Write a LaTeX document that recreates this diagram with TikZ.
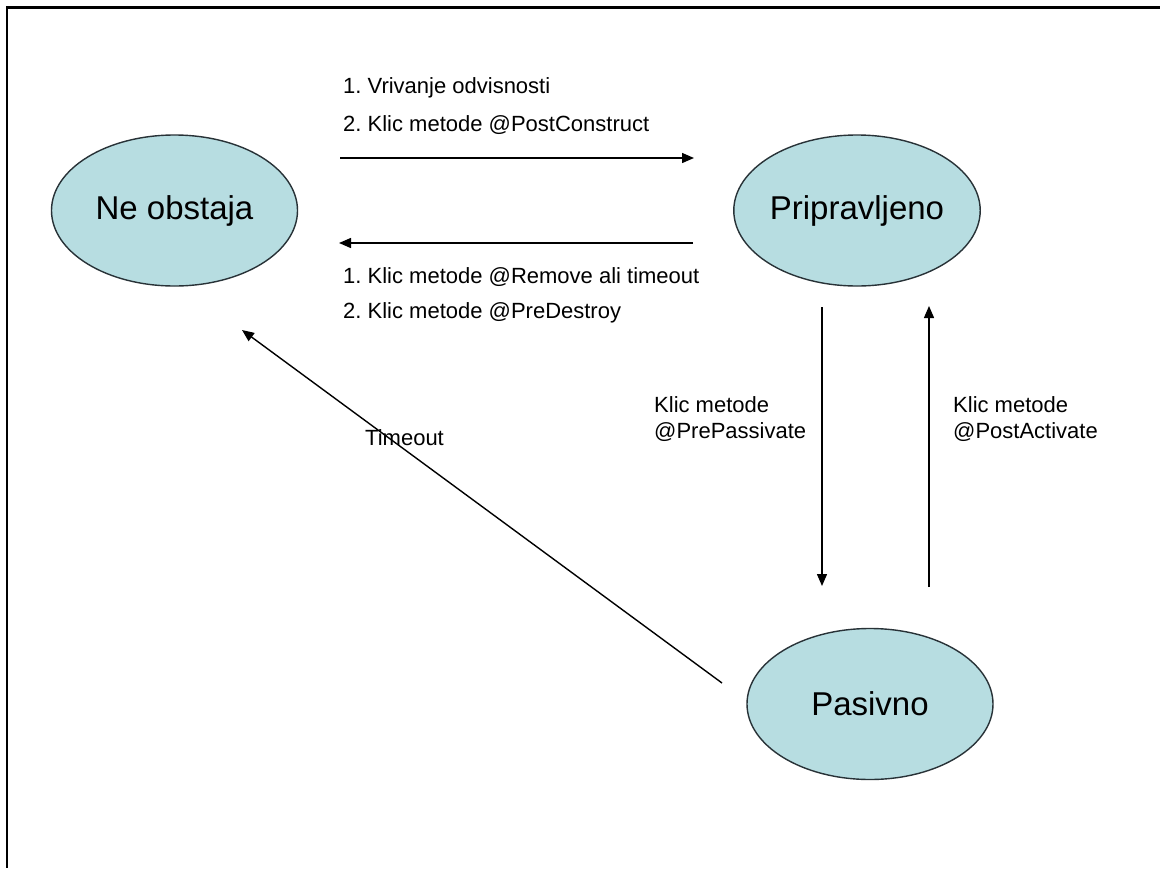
\documentclass[tikz,border=0pt]{standalone}
\usepackage{fontspec}
\setmainfont{Liberation Sans}
\usetikzlibrary{arrows.meta,shapes.geometric}
\definecolor{statefill}{RGB}{183,221,225}
\definecolor{stateline}{RGB}{40,50,55}
\frenchspacing
\tikzset{
  state/.style={ellipse, draw=stateline, line width=1.4pt, fill=statefill,
    minimum width=246pt, minimum height=151pt, inner sep=0pt,
    font=\fontsize{33}{38}\selectfont},
  lbl/.style={anchor=base west, inner sep=0pt, font=\fontsize{22}{26}\selectfont},
  conn/.style={line width=1.4pt, -{Triangle[length=12pt,width=10pt]}}
}
\begin{document}
\begin{tikzpicture}[x=1pt,y=-1pt]
\useasboundingbox (0,0) rectangle (1160,868);
\fill[white] (0,0) rectangle (1160,868);
\draw[line width=2.6pt] (1160,7.5) -- (7,7.5) -- (7,868);

\node[state] (ne) at (174.5,210.5) {Ne obstaja};
\node[state] (pri) at (857,210.5) {Pripravljeno};
\node[state] (pas) at (870,704) {Pasivno};

\coordinate (a1s) at (340,158);
\coordinate (a1e) at (694,158);
\coordinate (a2s) at (693,243);
\coordinate (a2e) at (339,243);
\coordinate (a3s) at (822,307);
\coordinate (a3e) at (822,586);
\coordinate (a4s) at (929,587);
\coordinate (a4e) at (929,306);
\coordinate (a5s) at (722,683);
\coordinate (a5e) at (242,330);

\draw[conn] (a1s) -- (a1e);
\draw[conn] (a2s) -- (a2e);
\draw[conn] (a3s) -- (a3e);
\draw[conn] (a4s) -- (a4e);
\draw[conn] (a5s) -- (a5e);

\node[lbl] (t1) at (343,93) {1. Vrivanje odvisnosti};
\node[lbl] (t2) at (343,131) {2. Klic metode @PostConstruct};
\node[lbl] (t3) at (343,283) {1. Klic metode @Remove ali timeout};
\node[lbl] (t4) at (343,318) {2. Klic metode @PreDestroy};
\node[lbl] (t5) at (654,412) {Klic metode};
\node[lbl] (t6) at (654,438) {@PrePassivate};
\node[lbl] (t7) at (953,412) {Klic metode};
\node[lbl] (t8) at (953,438) {@PostActivate};
\node[lbl] (t9) at (365,445) {Timeout};
\end{tikzpicture}
\end{document}
